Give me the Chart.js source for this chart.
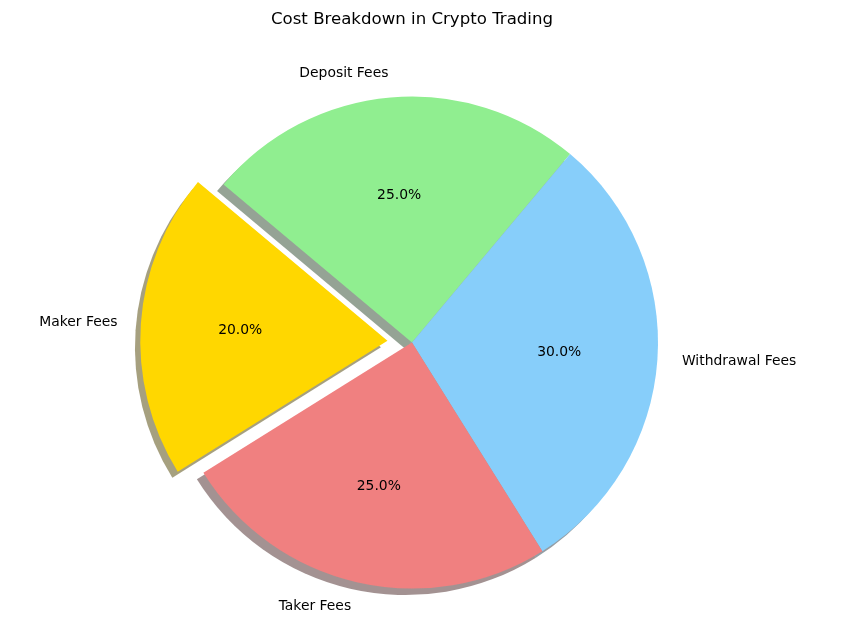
<!DOCTYPE html>
<html>
<head>
<meta charset="utf-8">
<script src="https://cdn.jsdelivr.net/npm/chart.js@4"></script>
<style>
  html, body { margin: 0; padding: 0; background: #fff; }
  #wrap { width: 859px; height: 636px; }
</style>
</head>
<body>
<div id="wrap"><canvas id="myChart"></canvas></div>
<script>
// slices in the order matplotlib draws them (counter-clockwise from 140 deg)
var labels = ['Maker Fees', 'Taker Fees', 'Withdrawal Fees', 'Deposit Fees'];
var shares = [20, 25, 30, 25];
var colors = ['#ffd700', '#f08080', '#87cefa', '#90ee90'];
var explode = [1, 0, 0, 0];

var RADIUS = 246;
var EXPLODE_PX = 0.1 * RADIUS;
var SHADOW_DX = -6.5, SHADOW_DY = 6.5;

// Chart.js goes clockwise, so feed the slices reversed
var cjLabels = labels.slice().reverse();
var cjData = shares.slice().reverse();
var cjColors = colors.slice().reverse();
var cjExplode = explode.slice().reverse();

function shadowOf(hex) {
    var n = parseInt(hex.slice(1), 16);
    var r = (n >> 16) & 255, g = (n >> 8) & 255, b = n & 255;
    return 'rgba(' + Math.round(r * 0.3) + ',' + Math.round(g * 0.3) + ',' + Math.round(b * 0.3) + ',0.5)';
}

function sliceCenter(arc, i) {
    var mid = (arc.startAngle + arc.endAngle) / 2;
    var d = cjExplode[i] ? EXPLODE_PX : 0;
    return { x: arc.x + Math.cos(mid) * d, y: arc.y + Math.sin(mid) * d, mid: mid };
}

var pieExtras = {
    id: 'pieExtras',
    beforeDatasetsDraw: function (chart) {
        var ctx = chart.ctx;
        var arcs = chart.getDatasetMeta(0).data;
        ctx.save();
        arcs.forEach(function (arc, i) {
            var c = sliceCenter(arc, i);
            ctx.beginPath();
            ctx.moveTo(c.x + SHADOW_DX, c.y + SHADOW_DY);
            ctx.arc(c.x + SHADOW_DX, c.y + SHADOW_DY, arc.outerRadius, arc.startAngle, arc.endAngle);
            ctx.closePath();
            ctx.fillStyle = shadowOf(cjColors[i]);
            ctx.fill();
        });
        ctx.restore();
    },
    afterDatasetsDraw: function (chart) {
        var ctx = chart.ctx;
        var arcs = chart.getDatasetMeta(0).data;
        var total = cjData.reduce(function (a, b) { return a + b; }, 0);
        ctx.save();
        ctx.font = '13.9px "DejaVu Sans"';
        ctx.fillStyle = '#000';
        ctx.textBaseline = 'middle';
        arcs.forEach(function (arc, i) {
            var c = sliceCenter(arc, i);
            var r = arc.outerRadius;
            var px = c.x + Math.cos(c.mid) * r * 0.6;
            var py = c.y + Math.sin(c.mid) * r * 0.6;
            ctx.textAlign = 'center';
            ctx.fillText((cjData[i] / total * 100).toFixed(1) + '%', px, py);
            var lx = c.x + Math.cos(c.mid) * r * 1.1;
            var ly = c.y + Math.sin(c.mid) * r * 1.1;
            ctx.textAlign = Math.cos(c.mid) > 0 ? 'left' : 'right';
            ctx.fillText(cjLabels[i], lx, ly);
        });
        ctx.restore();
    }
};

new Chart('myChart', {
    type: 'pie',
    data: {
        labels: cjLabels,
        datasets: [{
            data: cjData,
            backgroundColor: cjColors,
            borderWidth: 0,
            radius: RADIUS,
            offset: cjExplode.map(function (e) { return e ? EXPLODE_PX * 4 : 0; })
        }]
    },
    options: {
        responsive: true,
        maintainAspectRatio: false,
        animation: false,
        rotation: -50,
        layout: {
            padding: { top: 0, bottom: 5.2, left: 0, right: 35 }
        },
        plugins: {
            legend: { display: false },
            tooltip: { enabled: false },
            title: {
                display: true,
                text: 'Cost Breakdown in Crypto Trading',
                color: '#000',
                font: { family: 'DejaVu Sans', size: 16.6, weight: 'normal' },
                padding: { top: 10, bottom: 24.3 }
            }
        }
    },
    plugins: [pieExtras]
});
</script>
</body>
</html>
